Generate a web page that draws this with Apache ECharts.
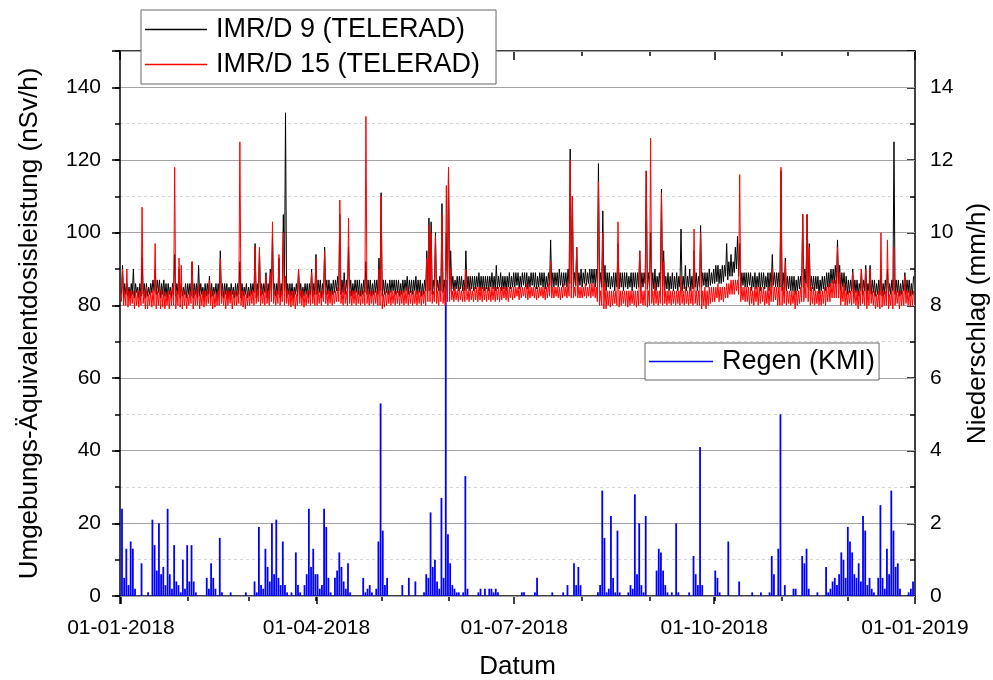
<!DOCTYPE html>
<html>
<head>
<meta charset="utf-8">
<script src="https://cdn.jsdelivr.net/npm/echarts@6/dist/echarts.min.js"></script>
<style>
  html, body { margin: 0; padding: 0; background: #fff; }
  #chart { width: 993px; height: 680px; }
</style>
</head>
<body>
<div id="chart"></div>
<script>
// Series names as shown in the legends
const seriesNames = ['IMR/D 9 (TELERAD)', 'IMR/D 15 (TELERAD)', 'Regen (KMI)'];

// Tick labels
const doseTicks = [0, 20, 40, 60, 80, 100, 120, 140];
const rainTicks = [0, 2, 4, 6, 8, 10, 12, 14];
const dateTicks = ['01-01-2018', '01-04-2018', '01-07-2018', '01-10-2018', '01-01-2019'];

// Ambient dose equivalent rate (nSv/h), daily highest and lowest reading, 2018, Jan .. Dec
const d9Max = [
  91,86,86,85,86,90,86,85,86,93,86,86,85,86,87,90,87,87,86,87,86,86,85,86,94,86,90,86,85,86,86,
  86,92,86,86,91,86,85,86,86,88,86,85,86,86,95,86,86,86,85,86,85,86,86,92,86,85,86,85,
  86,86,97,86,95,86,86,89,86,90,99,86,86,93,86,105,133,86,86,86,85,86,90,86,85,86,86,86,90,86,94,
  87,87,86,96,87,87,86,87,87,88,105,87,89,87,96,87,86,87,87,87,86,87,92,87,87,86,87,87,93,111,
  87,87,86,87,87,87,87,87,86,87,87,88,87,87,87,88,87,87,86,87,95,104,103,87,100,87,88,108,87,100,118,
  95,88,87,88,88,88,87,95,88,88,88,88,88,89,88,88,88,88,88,89,88,91,88,89,88,88,88,89,88,89,
  89,89,88,89,89,89,88,89,89,89,88,89,89,89,88,89,98,89,89,89,90,89,89,89,90,123,110,89,96,89,90,
  89,90,89,90,90,90,90,119,89,106,91,89,89,88,89,89,97,89,89,89,89,88,89,89,89,89,95,89,89,117,89,
  100,89,90,88,89,112,95,88,89,88,89,88,89,88,101,88,91,88,90,88,95,89,88,102,89,89,89,90,89,90,
  91,91,90,91,91,97,92,94,92,96,99,97,89,89,89,89,89,88,89,88,89,89,89,88,89,89,94,89,89,89,117,
  89,93,88,88,88,88,87,88,88,105,90,105,97,88,88,88,88,87,88,88,89,89,90,90,91,98,91,89,89,88,
  87,87,90,87,87,86,90,87,91,86,91,87,87,86,87,90,86,87,90,86,87,125,87,87,86,87,89,87,87,86,88
];
const d9Min = [
  83,82,83,82.5,82,83,82,83.5,82,82.5,83,82,82.5,83,83.5,84,83,83.5,82,83,82.5,82,83,82,83,82.5,83,82,82.5,83,82,
  83,82.5,82,83,82,82.5,83,82,82.5,83,82,82.5,83,82,83,82.5,82,83,82,82.5,83,82,82.5,83,82,82.5,83,82,
  82.5,83,83.5,82,83,82.5,83,83.5,82,83,84,83,82.5,83,82,83,84,82,83,82.5,82,83,82.5,83,82,82.5,83,82,83,82.5,83,
  83,83.5,82,83,83.5,83,82.5,83,83.5,84,84,83,83.5,83,84,83,82.5,83,83.5,83,82.5,83,83.5,83,83,82.5,83,83.5,83,84,
  82.5,83,83.5,83,83.5,84,83,83.5,82.5,83,83.5,84,83,83.5,83,84,83,83.5,82.5,83,84,84,84,83,84,83.5,84,84,83.5,84,84,
  84,84.5,84,84.5,84,84.5,84,84,84.5,84,84.5,84,84.5,85,84,84.5,84,84.5,84,85,84.5,84,84.5,85,84,84.5,84,85,84.5,85,
  85,85.5,84.5,85,85.5,85,84.5,85,85.5,85,84.5,85,85.5,85,84.5,85,85.5,85,85,85.5,85,85.5,85,85.5,85,86,86,85,85.5,85,85.5,
  85,86,85.5,86,86,86,85,86,85,85,85,84,85,84.5,85,84,85,84.5,85,84,85,84.5,85,84,85,84.5,85,84,85,86,84.5,
  85,84,84.5,84,85,85,85,84,84.5,84,84.5,84,84.5,84,85,84,84.5,84,85,84,84.5,85,84,85,85,85.5,85,85,85.5,86,
  86,86.5,86,86,86.5,88,87,88,88,89,90,88,85,85.5,85,85,85.5,84,85,84.5,85,84,85,84.5,85,84,85,85.5,85,85,85,
  84,84.5,84,84.5,84,84,83,84,84.5,85,85,86,85,84,84.5,84,84.5,83,84,84.5,84,85,85,86,86,86,86,84,85,84,
  83,83.5,84,83,83.5,82.5,84,83,84,82.5,84,83,83.5,82.5,83,83,82.5,83,83.5,82.5,83,84,83,83.5,82.5,83,84,83,83.5,82.5,83
];
const d15Max = [
  90,84,90,84,84,84,84,84,84,107,84,85,83,84,84,97,84,85,84,84,83,84,84,85,118,84,93,91,84,84,83,
  84,92,84,84,86,83,84,84,84,87,84,84,83,84,93,84,84,84,84,84,84,84,84,125,84,84,83,84,
  84,84,96,84,96,84,84,88,84,89,103,84,84,94,84,100,88,84,84,84,84,83,90,84,84,83,84,84,89,84,93,
  84,84,84,95,84,84,84,84,84,85,109,84,86,84,104,84,84,84,84,84,84,84,132,84,84,84,84,84,90,110,
  83,84,84,84,84,84,84,84,84,84,84,85,84,84,84,84,84,84,84,84,93,102,100,84,99,84,86,105,84,113,118,
  90,84,85,84,85,84,85,90,84,85,84,85,85,85,85,85,85,85,85,85,85,85,85,85,85,85,85,85,85,85,
  85,85,85,85,85,86,85,85,85,85,85,85,85,85,85,86,92,85,85,85,85,85,86,85,86,120,110,85,96,85,85,
  85,86,85,86,86,86,85,114,84,100,86,84,84,84,84,84,103,84,84,84,84,84,84,84,84,84,95,84,84,117,84,
  126,84,86,84,84,111,92,84,84,84,84,84,84,84,88,84,85,84,85,84,101,84,84,100,84,85,84,85,85,85,
  85,86,85,85,85,86,86,87,87,87,87,116,85,85,85,85,85,84,85,85,85,85,85,84,85,85,90,85,85,85,118,
  85,92,84,84,84,84,84,84,85,105,86,105,96,85,85,84,84,84,84,85,85,86,86,87,87,96,89,85,86,84,
  84,84,89,84,84,84,90,84,90,84,90,84,84,83,84,100,84,84,98,83,84,96,84,84,84,84,88,84,84,84,84
];
const d15Min = [
  81,80,80,79.5,80,80.5,79,80,79.5,80,80.5,79,79,80,79.5,80,79,80,79,79.5,79,80,79,80,80,79,80,79.5,79,80,79,
  80,80.5,79,80,80,79,80,79.5,80,80.5,80,79,79.5,80,80,80.5,80,79,80,80.5,79,80,80,80.5,80,79.5,79,80,
  80,80.5,80,80.5,81,80,80.5,80,80.5,80,81,80.5,80,80.5,80,81,80,80.5,80,79.5,80,79,80,80.5,80,79.5,80,80.5,80,80.5,80,
  80,80.5,80,81,80.5,80,80.5,80,80.5,81,81,80.5,80,80.5,80,80.5,80,80.5,80,80.5,80,80.5,80,80.5,80,80.5,80,80.5,80,80,
  79,79.5,80,80.5,80,80.5,80,80.5,80,80.5,80,80.5,80,80.5,80,80.5,80,80.5,80,80.5,80,81,81,80.5,81,80.5,80,81,80.5,80,81,
  81,81.5,81,81.5,81,81.5,81,81,81.5,81,81.5,81,81.5,81,81.5,81,81.5,81,81.5,81,81.5,81,81.5,81,81.5,82,81.5,81,82,81.5,
  82,82.5,81.5,82,82.5,82,81.5,82,82.5,82,81.5,82,82.5,82,81.5,82,82.5,82,82,82.5,82,81.5,82,82.5,82,82.5,82,82,82.5,82,82,
  82,82.5,82,82.5,82,82.5,82,81,80,80,79,79,80,79.5,80,80.5,80,79.5,80,80.5,80,79.5,80,80.5,80,79.5,80,80.5,80,80,79.5,
  80,80.5,80,80.5,80,80.5,80,80.5,80,80.5,80,80.5,80,80.5,80,80.5,80,80.5,80,80.5,80,80.5,80,80,79,80,79,80,80.5,81,
  81,82,81,81.5,81,82,82,83,83,83,84,83,81,81.5,81,81,80,80.5,80,81,80,80.5,81,80,80.5,80,81,81,81.5,80,80,
  80,80.5,80,80.5,80,80.5,79,80,80.5,81,81,82,81,80,80.5,80,80.5,80,80,80.5,80,81,81,82,82,82,82,80,81,80,
  80,80.5,80,80.5,80,79,80,80.5,80,79,80,80.5,80,79,79.5,79,79.5,80,80,79,80,79,80,80.5,79,80,80,80.5,80,79.5,80
];

// Precipitation (mm/h), highest reading of each day of 2018, Jan .. Dec
const rainKMI = [
  2.4,0.5,1.3,0.3,1.5,1.3,0.2,0,0,0.9,0,0,0.1,0,2.1,1.4,0.7,2.0,0.6,0.8,0.3,2.4,0.6,0.2,1.4,0.4,0.3,0.1,1.0,0.2,1.4,
  0.4,1.4,0.4,0.1,0,0,0,0,0.5,0.2,0.9,0.5,0.2,0,1.6,0.1,0,0,0,0.1,0,0,0,0,0,0,0.1,0,
  0,0,0.4,0.1,1.9,0.3,0.2,1.3,0.8,0.4,2.0,0.6,2.1,0.5,0.3,1.5,0.3,0.1,0,0.1,0,1.2,0.3,0.1,0,0.3,0.6,2.4,0.8,1.3,0.6,
  0.6,0.2,0.3,2.4,1.9,0.5,0.1,0,0.5,0.7,1.2,0.8,0.4,0.2,0.9,0.1,0,0,0,0,0,0.5,0.1,0.2,0.3,0.1,0,0.2,1.5,5.3,
  1.8,0.3,0.5,0,0,0,0,0,0,0.3,0,0,0.5,0,0,0.4,0,0,0,0.1,0.6,0.5,2.3,0.8,1.0,0.4,0.2,2.7,0.5,8.7,1.7,
  0.9,0.3,0.2,0.1,0.1,0,0.1,3.3,0.2,0,0,0,0,0.1,0.2,0,0.2,0,0.2,0.2,0.1,0.2,0.1,0,0,0,0,0,0,0,
  0,0,0,0.1,0.1,0,0,0,0,0.1,0.5,0,0,0,0,0,0,0.1,0,0,0,0,0.1,0,0.3,0,0,0.9,0.3,0.8,0.3,
  0,0,0,0,0,0,0,0.1,0.3,2.9,1.6,0.1,0.2,2.2,0.5,0.1,1.8,0.1,0,0,0,0.1,0.3,0.2,2.8,0.6,2.0,0.3,0.1,2.2,0,
  0,0,0,0.7,1.3,1.2,0.7,0.3,0.1,0,0.1,0,2.0,0.1,0,0,0,0,0.1,0,1.1,0.6,0.3,4.1,0.3,0,0,0,0,0,
  0.7,0.5,0.1,0,0,0,1.5,0,0,0,0,0.4,0,0,0,0,0,0.1,0,0,0,0.1,0,0,0,0.1,1.1,0.6,0,1.3,5.0,
  0,0.3,0,0,0,0.2,0.2,0,0,1.1,0.9,1.3,0.2,0,0,0,0.1,0,0,0,0.8,0.1,0.2,0.4,0.5,0.3,0.6,1.2,1.0,0.5,
  1.9,1.5,1.2,0.6,0.5,0.9,0.4,2.2,1.8,0.3,0.5,0.2,0.1,0,0.5,2.5,0.5,0.2,1.3,0.6,2.9,1.8,0.8,0.9,0.2,0,0,0,0.1,0.2,0.4
];

const FONT = '"Liberation Sans", Arial, Helvetica, sans-serif';
const YEAR = 2018;
const tMin = new Date(YEAR, 0, 1).getTime();
const tMax = new Date(YEAR + 1, 0, 1).getTime();

const at = (day, hour) => new Date(YEAR, 0, 1 + day, hour).getTime();

// each day contributes its low reading (morning) and its high reading (evening)
const dailyRange = (lo, hi) => {
  const out = [];
  for (let i = 0; i < lo.length; i++) {
    out.push([at(i, 6), lo[i]]);
    out.push([at(i, 18), hi[i]]);
  }
  return out;
};
const dailyPoints = arr => arr.map((v, i) => [at(i, 12), v]);

const pad = n => String(n).padStart(2, '0');
const fmtDate = v => {
  const d = new Date(v);
  const s = pad(d.getDate()) + '-' + pad(d.getMonth() + 1) + '-' + d.getFullYear();
  return dateTicks.includes(s) ? s : '';
};

const black = { color: '#000', width: 1.5 };
const tickStyle = { color: '#000', width: 1.5 };
const labelStyle = { color: '#000', fontSize: 21, fontFamily: FONT };
const nameStyle = { color: '#000', fontSize: 26, fontFamily: FONT };

function timeAxis(position, splitNumber, tickLen, inside, extra) {
  return Object.assign({
    type: 'time', min: tMin, max: tMax, position: position, splitNumber: splitNumber,
    axisLine: { show: false, onZero: false },
    axisTick: { show: true, inside: inside, length: tickLen, lineStyle: tickStyle },
    axisLabel: { show: false },
    splitLine: { show: false }
  }, extra || {});
}

const legendBox = {
  orient: 'vertical', borderColor: '#666', borderWidth: 1, backgroundColor: '#fff',
  selectedMode: false, z: 10, itemHeight: 1.5,
  textStyle: { color: '#000', fontSize: 27, fontFamily: FONT, padding: [0, 0, 0, 4] }
};

const chart = echarts.init(document.getElementById('chart'), null, { renderer: 'canvas' });

chart.setOption({
  animation: false,
  backgroundColor: '#fff',
  grid: { left: 120, right: 78, top: 51, bottom: 84, containLabel: false, outerBoundsMode: 'none' },
  legend: [
    Object.assign({}, legendBox, {
      data: [{ name: seriesNames[0], icon: 'rect' }, { name: seriesNames[1], icon: 'rect' }],
      left: 141, top: 10, itemWidth: 62, itemGap: 8, padding: [6, 16, 6, 4]
    }),
    Object.assign({}, legendBox, {
      data: [{ name: seriesNames[2], icon: 'rect' }],
      left: 645, top: 343, itemWidth: 64, padding: [5, 4, 5, 4]
    })
  ],
  xAxis: [
    timeAxis('bottom', 4, 8, false, {
      axisLine: { show: true, onZero: false, lineStyle: black },
      axisLabel: { show: true, formatter: fmtDate, margin: 22, hideOverlap: false,
                   showMinLabel: true, showMaxLabel: true, ...labelStyle },
      name: 'Datum', nameLocation: 'middle', nameGap: 58, nameTextStyle: nameStyle
    }),
    timeAxis('bottom', 12, 5, false),
    timeAxis('top', 4, 9, true, { axisLine: { show: true, onZero: false, lineStyle: black } }),
    timeAxis('top', 12, 5, true)
  ],
  yAxis: [
    {
      type: 'value', min: 0, max: 150, interval: 10, position: 'left', z: 0,
      axisLine: { show: false, onZero: false },
      axisTick: { show: true, length: 5, lineStyle: tickStyle },
      axisLabel: { show: false },
      splitLine: { show: true, lineStyle: { color: '#d6d6d6', width: 1, type: [3, 3] } }
    },
    {
      type: 'value', min: 0, max: 150, interval: 20, position: 'left', z: 1,
      axisLine: { show: true, onZero: false, lineStyle: black },
      axisTick: { show: true, length: 8, lineStyle: tickStyle },
      axisLabel: { formatter: v => doseTicks.includes(v) ? String(v) : '', margin: 19, ...labelStyle },
      splitLine: { show: true, lineStyle: { color: '#a3a3a3', width: 1 } },
      name: 'Umgebungs-Äquivalentdosisleistung (nSv/h)', nameLocation: 'middle',
      nameRotate: 90, nameGap: 77, nameTextStyle: nameStyle
    },
    {
      type: 'value', min: 0, max: 15, interval: 2, position: 'right',
      axisLine: { show: true, onZero: false, lineStyle: black },
      axisTick: { show: true, inside: true, length: 8, lineStyle: tickStyle },
      axisLabel: { formatter: v => rainTicks.includes(v) ? String(v) : '', margin: 15, ...labelStyle },
      splitLine: { show: false },
      name: 'Niederschlag (mm/h)', nameLocation: 'middle',
      nameRotate: 90, nameGap: 50, nameTextStyle: nameStyle
    },
    {
      type: 'value', min: 0, max: 15, interval: 1, position: 'right',
      axisLine: { show: false, onZero: false },
      axisTick: { show: true, inside: true, length: 5, lineStyle: tickStyle },
      axisLabel: { show: false },
      splitLine: { show: false }
    }
  ],
  series: [
    {
      name: seriesNames[0], type: 'line', xAxisIndex: 0, yAxisIndex: 1,
      data: dailyRange(d9Min, d9Max), symbol: 'none', showSymbol: false, sampling: null,
      lineStyle: { color: '#000', width: 1 }, itemStyle: { color: '#000' }
    },
    {
      name: seriesNames[1], type: 'line', xAxisIndex: 0, yAxisIndex: 1,
      data: dailyRange(d15Min, d15Max), symbol: 'none', showSymbol: false, sampling: null,
      lineStyle: { color: '#ff0000', width: 1 }, itemStyle: { color: '#ff0000' }
    },
    {
      name: seriesNames[2], type: 'bar', xAxisIndex: 0, yAxisIndex: 2,
      data: dailyPoints(rainKMI), barWidth: 1.8,
      itemStyle: { color: '#0000ff' }
    }
  ]
});
</script>
</body>
</html>
